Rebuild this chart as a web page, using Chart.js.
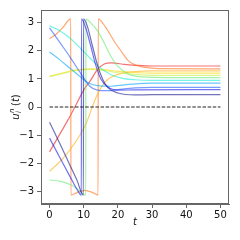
<!DOCTYPE html>
<html>
<head>
<meta charset="utf-8">
<script src="https://cdn.jsdelivr.net/npm/chart.js@4"></script>
<style>
  html, body { margin: 0; padding: 0; background: #fff; }
  canvas { display: block; }
</style>
</head>
<body>
<canvas id="phaseChart" width="240" height="240"></canvas>
<script>
// phases, wrapped to [-pi, pi]
const tNavy = [0, 3, 6, 8, 9.9, 9.95, 11, 12.5, 14, 15.5, 17, 20, 25, 30, 50];
const uNavy = [-0.54, -1.3, -2.08, -2.6, -3.14, 3.14, 2.9, 2.2, 1.5, 1.0, 0.7, 0.5, 0.43, 0.44, 0.44];

const tBlue = [0, 3, 6, 8, 9.3, 9.35, 10.5, 12, 13.5, 15, 17, 20, 25, 50];
const uBlue = [-1.11, -1.8, -2.48, -2.93, -3.14, 3.14, 2.85, 2.2, 1.5, 1.0, 0.72, 0.6, 0.61, 0.62];

const tBlue2 = [0, 3, 6, 9, 11.8, 14, 17, 20, 25, 30, 50];
const uBlue2 = [2.82, 2.3, 1.78, 1.22, 0.74, 0.6, 0.58, 0.62, 0.68, 0.7, 0.7];

const tSky = [0, 3, 6, 9, 11, 14, 18, 22, 30, 50];
const uSky = [1.96, 1.68, 1.38, 1.08, 0.88, 0.76, 0.74, 0.79, 0.85, 0.85];

const tAqua = [0, 3, 6, 9, 12, 15, 18, 21, 25, 30, 50];
const uAqua = [2.89, 2.72, 2.45, 2.1, 1.72, 1.38, 1.15, 1.03, 0.97, 0.95, 0.95];

const tGreen = [0, 3, 6, 8, 10.6, 10.65, 12, 14, 16, 18, 20, 23, 27, 35, 50];
const uGreen = [-2.6, -2.64, -2.76, -2.9, -3.14, 3.14, 3.0, 2.72, 2.28, 1.8, 1.45, 1.18, 1.07, 1.05, 1.05];

const tLime = [0, 4, 8, 12, 16, 20, 25, 30, 50];
const uLime = [1.08, 1.2, 1.3, 1.34, 1.3, 1.22, 1.16, 1.13, 1.13];

const tYellow = [0, 4, 8, 12, 16, 20, 25, 30, 50];
const uYellow = [1.1, 1.22, 1.32, 1.36, 1.33, 1.27, 1.23, 1.21, 1.21];

const tGold = [0, 3, 6, 9, 11, 12.5, 14, 16, 18, 21, 25, 30, 50];
const uGold = [-2.29, -1.95, -1.52, -0.98, -0.5, 0, 0.45, 0.86, 1.06, 1.2, 1.26, 1.29, 1.29];

const tOrange = [0, 2, 4, 6.2, 6.25, 8, 10.3, 12.5, 14.2, 14.25, 16.3, 19.2, 21.3, 23, 25, 28, 32, 50];
const uOrange = [2.43, 2.6, 2.85, 3.14, -3.14, -3.05, -2.97, -3.04, -3.14, 3.14, 2.86, 2.29, 1.93, 1.65, 1.5, 1.41, 1.37, 1.36];

const tRed = [0, 2.7, 5.4, 7.4, 10, 12, 14, 16, 18, 22, 26, 30, 50];
const uRed = [-1.6, -1.03, -0.46, 0.0, 0.6, 0.95, 1.33, 1.53, 1.57, 1.52, 1.48, 1.46, 1.46];

const zeroT = [0, 50];
const zeroU = [0, 0];

const xTicks = [0, 10, 20, 30, 40, 50];
const yTicks = [-3, -2, -1, 0, 1, 2, 3];

const series = [
  [tNavy, uNavy, 'rgba(20, 20, 140, 0.6)'],
  [tBlue, uBlue, 'rgba(20, 20, 235, 0.6)'],
  [tBlue2, uBlue2, 'rgba(30, 90, 255, 0.6)'],
  [tSky, uSky, 'rgba(0, 165, 255, 0.6)'],
  [tAqua, uAqua, 'rgba(30, 235, 210, 0.6)'],
  [tGreen, uGreen, 'rgba(100, 235, 110, 0.6)'],
  [tLime, uLime, 'rgba(200, 240, 60, 0.6)'],
  [tYellow, uYellow, 'rgba(255, 215, 0, 0.6)'],
  [tGold, uGold, 'rgba(255, 175, 20, 0.6)'],
  [tOrange, uOrange, 'rgba(255, 110, 20, 0.6)'],
  [tRed, uRed, 'rgba(240, 20, 20, 0.6)']
];

const pairs = (ts, us) => ts.map((t, i) => ({ x: t, y: us[i] }));

const datasets = [{
  data: pairs(zeroT, zeroU),
  borderColor: '#222',
  borderWidth: 1,
  borderDash: [3.5, 1.6],
  pointRadius: 0
}];
series.forEach(([ts, us, c]) => {
  datasets.push({
    data: pairs(ts, us),
    borderColor: c,
    borderWidth: 1.2,
    pointRadius: 0,
    cubicInterpolationMode: 'monotone'
  });
});

const minus = v => (v < 0 ? '\u2212' + Math.abs(v) : String(v));
const tickFont = { family: 'DejaVu Sans', size: 10 };

// box around the plot + axis labels in mathtext style
const frame = {
  id: 'frame',
  afterDraw(chart) {
    const { ctx, chartArea: a } = chart;
    ctx.save();
    ctx.strokeStyle = '#666';
    ctx.lineWidth = 1;
    ctx.strokeRect(a.left + 0.5, a.top + 0.5, a.right - a.left - 1, a.bottom - a.top - 1);

    ctx.fillStyle = '#111';
    ctx.textBaseline = 'middle';
    ctx.textAlign = 'center';
    ctx.font = 'italic 10px "DejaVu Sans"';
    ctx.fillText('t', (a.left + a.right) / 2, 222);

    // y label: u_i^n (t)
    ctx.translate(15, (a.top + a.bottom) / 2);
    ctx.rotate(-Math.PI / 2);
    ctx.textAlign = 'left';
    ctx.textBaseline = 'alphabetic';
    const big = 'italic 10px "DejaVu Sans"', small = 'italic 7px "DejaVu Sans"', reg = '10px "DejaVu Sans"';
    ctx.font = big; const wu = ctx.measureText('u').width;
    ctx.font = small; const ws = Math.max(ctx.measureText('n').width, ctx.measureText('i').width);
    ctx.font = reg; const wp = ctx.measureText('(').width, wq = ctx.measureText(')').width;
    ctx.font = big; const wt = ctx.measureText('t').width;
    const gap = 3;
    let x = -(wu + ws + gap + wp + wt + wq) / 2;
    const base = 3.5;
    ctx.font = big; ctx.fillText('u', x, base); x += wu;
    ctx.font = small; ctx.fillText('n', x + 0.5, base - 5); ctx.fillText('i', x + 0.5, base + 2.5); x += ws + gap;
    ctx.font = reg; ctx.fillText('(', x, base); x += wp;
    ctx.font = big; ctx.fillText('t', x, base); x += wt;
    ctx.font = reg; ctx.fillText(')', x, base);
    ctx.restore();
  }
};

new Chart(document.getElementById('phaseChart').getContext('2d'), {
  type: 'line',
  data: { datasets },
  options: {
    responsive: false,
    animation: false,
    devicePixelRatio: 1,
    layout: { padding: { top: 10, right: 11, left: 0, bottom: 0 } },
    plugins: { legend: { display: false }, tooltip: { enabled: false } },
    scales: {
      x: {
        type: 'linear',
        min: -2.5,
        max: 52.5,
        afterBuildTicks: s => { s.ticks = xTicks.map(v => ({ value: v })); },
        afterFit: s => { s.height = 36; },
        ticks: { font: tickFont, color: '#111', padding: 1, maxRotation: 0, callback: minus },
        grid: { drawOnChartArea: false, tickLength: 4, color: '#666' },
        border: { color: '#666' }
      },
      y: {
        type: 'linear',
        min: -3.456,
        max: 3.456,
        afterBuildTicks: s => { s.ticks = yTicks.map(v => ({ value: v })); },
        afterFit: s => { s.width = 41; },
        ticks: { font: tickFont, color: '#111', padding: 3, callback: minus },
        grid: { drawOnChartArea: false, tickLength: 4, color: '#666' },
        border: { color: '#666' }
      }
    }
  },
  plugins: [frame]
});
</script>
</body>
</html>
